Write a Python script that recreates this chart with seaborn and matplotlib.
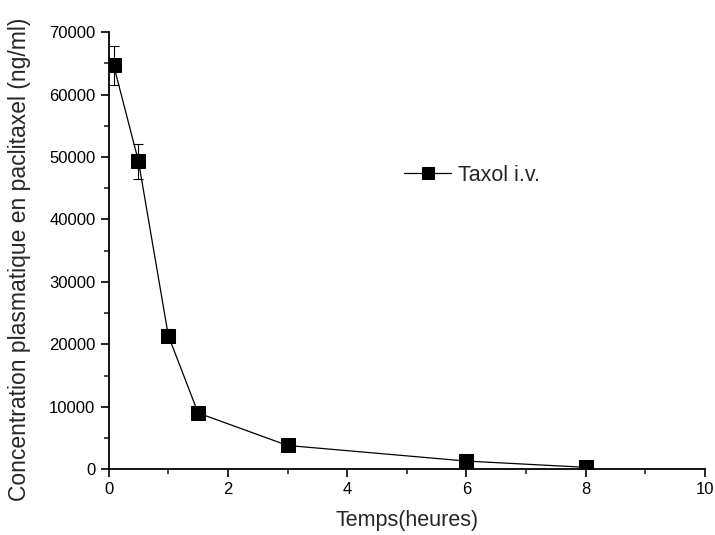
import matplotlib
matplotlib.use('Agg')
import matplotlib.pyplot as plt
import numpy as np
import pandas as pd
import seaborn as sns
from matplotlib.ticker import MultipleLocator

# data
temps = [0.083, 0.5, 1.0, 1.5, 3.0, 6.0, 8.0]
concentration = [64700, 49300, 21400, 9000, 3800, 1300, 300]
erreur = [3100, 2850, 1100, 0, 0, 0, 0]

df = pd.DataFrame({'Temps': temps, 'Concentration': concentration, 'Erreur': erreur})

sns.set_theme(style='ticks')
plt.rcParams['font.family'] = ['Liberation Sans', 'DejaVu Sans']

fig = plt.figure(figsize=(7.15, 5.35), dpi=100)
ax = fig.add_axes([0.152, 0.123, 0.834, 0.817])

ax.errorbar(df['Temps'], df['Concentration'], yerr=df['Erreur'], fmt='none',
            ecolor='black', elinewidth=0.8, capsize=3.5, capthick=0.8, zorder=2)
sns.lineplot(data=df, x='Temps', y='Concentration', ax=ax, color='black',
             linewidth=0.9, marker='s', markersize=9.5, markeredgecolor='black',
             label='Taxol i.v.', zorder=3)

ax.set_xlim(0, 10)
ax.set_ylim(0, 70000)
ax.xaxis.set_major_locator(MultipleLocator(2))
ax.xaxis.set_minor_locator(MultipleLocator(1))
ax.yaxis.set_major_locator(MultipleLocator(10000))
ax.yaxis.set_minor_locator(MultipleLocator(5000))
ax.tick_params(which='major', length=6, width=1.2, labelsize=12, direction='out', colors='black')
ax.tick_params(which='minor', length=3.5, width=1.2, direction='out')
sns.despine(ax=ax)
for s in ['left', 'bottom']:
    ax.spines[s].set_linewidth(1.3)
    ax.spines[s].set_color('black')

ax.set_xlabel('Temps(heures)', fontsize=15.5, labelpad=9)
ax.set_ylabel('Concentration plasmatique en paclitaxel (ng/ml)', fontsize=16.5)
ax.yaxis.set_label_coords(-0.131, 0.48)

ax.legend(loc='center left', bbox_to_anchor=(0.495, 0.673), frameon=False,
          fontsize=15.5, handlelength=2.2, handletextpad=0.3, markerscale=0.85,
          borderpad=0, borderaxespad=0)

fig.savefig('out.png', dpi=100)
